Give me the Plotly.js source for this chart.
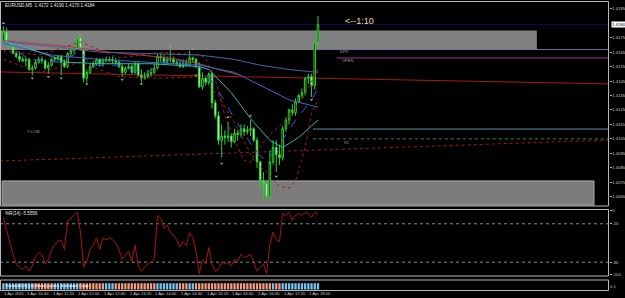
<!DOCTYPE html>
<html><head><meta charset="utf-8">
<script src="https://cdn.plot.ly/plotly-3.0.1.min.js"></script>
<style>html,body{margin:0;padding:0;background:#000;}#chart{width:625px;height:298px;}</style>
</head><body><div id="chart"></div>
<script>
// ---- candle data (EURUSD M5, 1 Apr 2011, 10:05 .. 18:15) ----
const barIndex = Array.from({length: 99}, (_, i) => i);
const open = [1.4172,1.4179,1.4171,1.4169,1.4164,1.4162,1.4160,1.4159,1.4160,1.4153,
1.4154,1.4158,1.4160,1.4159,1.4154,1.4156,1.4160,1.4161,1.4162,1.4158,
1.4155,1.4164,1.4166,1.4168,1.4175,1.4167,1.4147,1.4151,1.4155,1.4157,
1.4160,1.4157,1.4160,1.4159,1.4160,1.4159,1.4158,1.4155,1.4151,1.4154,
1.4155,1.4151,1.4157,1.4149,1.4147,1.4148,1.4150,1.4151,1.4154,1.4162,
1.4161,1.4158,1.4160,1.4160,1.4158,1.4157,1.4155,1.4157,1.4156,1.4161,
1.4160,1.4155,1.4141,1.4147,1.4144,1.4150,1.4130,1.4121,1.4104,1.4107,
1.4106,1.4107,1.4103,1.4109,1.4108,1.4112,1.4110,1.4111,1.4112,1.4104,
1.4089,1.4076,1.4074,1.4065,1.4089,1.4099,1.4094,1.4092,1.4112,1.4118,
1.4125,1.4123,1.4131,1.4135,1.4137,1.4147,1.4148,1.4142,1.4172];
const high = [1.4183,1.4182,1.4173,1.4171,1.4166,1.4165,1.4162,1.4162,1.4161,1.4156,
1.4160,1.4162,1.4162,1.4160,1.4158,1.4161,1.4162,1.4163,1.4163,1.4160,
1.4165,1.4167,1.4169,1.4176,1.4176,1.4168,1.4153,1.4157,1.4159,1.4161,
1.4161,1.4161,1.4162,1.4162,1.4162,1.4161,1.4160,1.4157,1.4155,1.4157,
1.4157,1.4159,1.4158,1.4153,1.4151,1.4153,1.4154,1.4157,1.4164,1.4164,
1.4163,1.4162,1.4167,1.4162,1.4160,1.4159,1.4160,1.4160,1.4166,1.4162,
1.4161,1.4158,1.4151,1.4148,1.4151,1.4151,1.4132,1.4124,1.4115,1.4111,
1.4117,1.4109,1.4112,1.4111,1.4115,1.4115,1.4114,1.4118,1.4113,1.4106,
1.4090,1.4082,1.4076,1.4097,1.4104,1.4104,1.4101,1.4114,1.4120,1.4126,
1.4129,1.4133,1.4136,1.4140,1.4148,1.4150,1.4150,1.4173,1.4190];
const low = [1.4171,1.4170,1.4168,1.4164,1.4161,1.4158,1.4158,1.4155,1.4152,1.4149,
1.4153,1.4157,1.4157,1.4153,1.4150,1.4155,1.4158,1.4159,1.4149,1.4154,
1.4154,1.4162,1.4164,1.4167,1.4166,1.4144,1.4144,1.4150,1.4154,1.4156,
1.4155,1.4155,1.4158,1.4158,1.4157,1.4157,1.4154,1.4148,1.4150,1.4153,
1.4150,1.4150,1.4148,1.4144,1.4146,1.4147,1.4148,1.4150,1.4153,1.4158,
1.4157,1.4157,1.4158,1.4157,1.4156,1.4154,1.4154,1.4155,1.4155,1.4158,
1.4154,1.4140,1.4139,1.4142,1.4142,1.4126,1.4119,1.4101,1.4092,1.4101,
1.4103,1.4099,1.4102,1.4104,1.4106,1.4107,1.4108,1.4107,1.4103,1.4085,
1.4071,1.4064,1.4063,1.4063,1.4087,1.4082,1.4087,1.4090,1.4110,1.4115,
1.4121,1.4121,1.4130,1.4133,1.4135,1.4143,1.4134,1.4139,1.4170];
const close = [1.4179,1.4171,1.4169,1.4164,1.4162,1.4160,1.4159,1.4160,1.4153,1.4154,
1.4158,1.4160,1.4159,1.4154,1.4156,1.4160,1.4161,1.4162,1.4158,1.4155,
1.4164,1.4166,1.4168,1.4175,1.4167,1.4147,1.4151,1.4155,1.4157,1.4160,
1.4157,1.4160,1.4159,1.4160,1.4159,1.4158,1.4155,1.4151,1.4154,1.4155,
1.4151,1.4157,1.4149,1.4147,1.4148,1.4150,1.4151,1.4154,1.4162,1.4161,
1.4158,1.4160,1.4160,1.4158,1.4157,1.4155,1.4157,1.4156,1.4161,1.4160,
1.4155,1.4141,1.4147,1.4144,1.4150,1.4130,1.4121,1.4104,1.4107,1.4106,
1.4107,1.4103,1.4109,1.4108,1.4112,1.4110,1.4111,1.4112,1.4104,1.4089,
1.4076,1.4074,1.4065,1.4089,1.4099,1.4094,1.4092,1.4112,1.4118,1.4125,
1.4123,1.4131,1.4135,1.4137,1.4147,1.4148,1.4142,1.4172,1.4184];

// Williams %R(14)
const willR = [-11,-30,-45,-68,-82,-88,-91,-86,-94,-86,
-71,-65,-68,-83,-76,-60,-53,-47,-45,-60,
-16,-11,-7,-2,-33,-88,-79,-60,-53,-42,
-60,-42,-45,-42,-45,-50,-60,-76,-69,-63,
-79,-53,-86,-94,-88,-83,-80,-74,-7,-11,
-27,-22,-33,-40,-45,-56,-48,-54,-34,-42,
-63,-98,-76,-83,-57,-83,-94,-91,-80,-82,
-80,-86,-76,-79,-68,-73,-71,-68,-79,-94,
-88,-83,-98,-53,-33,-45,-48,-4,-7,-2,
-15,-7,-4,-7,-2,-4,-10,-2,-5.5556];

// bottom trend strip: 1 = up (blue), 0 = down (salmon)
const trendState = [1,1,1,1,1,1,1,1,1,1, 0,0,0,0,0,0,1,1,1,1, 1,1,1,1,0,0,0,0,0,0,
0,0,1,1,1,0,0,0,0,0, 0,0,0,0,0,0,0,0,1,1, 1,1,1,1,1,0,0,0,1,1,
0,0,0,0,0,0,0,0,0,0, 0,0,0,0,0,0,0,0,0,0, 0,0,0,0,1,0,0,1,1,1,
1,1,1,1,1,1,1,1,1];
const stripLabel = 'Trend ADX(14) MetaQuotes Software Corp';

// moving averages / bands (bar index, price)
const maSlowX = [0,15,30,46,61,72,80,89,98];
const maSlowY = [1.4172,1.4169,1.4165,1.4164,1.4163,1.4160,1.4156,1.4153,1.4151];
const maMidX = [0,15,30,46,61,72,80,89,98];
const maMidY = [1.4171,1.4163,1.4160,1.4158,1.4156,1.4151,1.4142,1.4132,1.4127];
const maTealX = [0,5,15,20,30,46,61,64,71,77,83,87,92,98];
const maTealY = [1.4172,1.4170,1.4162,1.4158,1.4157,1.4157,1.4155,1.4153,1.4137,1.4119,1.4104,1.4099,1.4106,1.4118];
const maFastX = [0,8,18,24,27,36,44,52,61,66,72,79,82,86,91,96,98];
const maFastY = [1.4173,1.4160,1.4158,1.4166,1.4156,1.4156,1.4150,1.4161,1.4155,1.4142,1.4119,1.4095,1.4090,1.4101,1.4118,1.4132,1.4140];
const maRedX = [0,10,20,33,43,52,61,67,74];
const maRedY = [1.4173,1.4171,1.4169,1.4165,1.4163,1.4161,1.4157,1.4153,1.4149];
const bandAX = [0,11,24,36,49,61,67,74,78,82,86,89,91,94,96,98];
const bandAY = [1.4160,1.4151,1.4158,1.4148,1.4147,1.4148,1.4135,1.4108,1.4090,1.4082,1.4072,1.4071,1.4076,1.4099,1.4123,1.4132];
const bandBX = [0,11,24,36,49,61,63,66,69,72,75,77,79,83,88,93,98];
const bandBY = [1.4166,1.4163,1.4172,1.4161,1.4165,1.4163,1.4161,1.4146,1.4121,1.4104,1.4090,1.4089,1.4097,1.4108,1.4118,1.4132,1.4153];
const fracUpX = [0,24,52,59,70,77];
const fracUpY = [1.4185,1.4177,1.4169,1.4167,1.4120,1.4121];
const fracDnX = [9,14,18,26,37,43,60,68,85,96];
const fracDnY = [1.4147,1.4148,1.4147,1.4143,1.4146,1.4143,1.4149,1.4088,1.4079,1.4132];

// chart objects (prices)
const zoneUpper = [1.41665, 1.4180];
const zoneLower = [1.40592, 1.40759];
const bidLevel = 1.4184;
const dpvLevel = 1.41668, openLevel = 1.4161, pivotLevel = 1.41118, s1Level = 1.4105;
const trendRed = [1.41513, 1.41430];
const trendDot = [1.40897, 1.41042];

const priceTicks = [1.4065,1.4075,1.4085,1.4095,1.4105,1.4115,1.4125,1.4135,1.4145,1.4155,1.4165,1.4175,1.4195];
const timeTickIdx = [0,7,15,23,31,39,47,55,63,71,79,87,95];
const timeTickText = ['1 Apr 2011','1 Apr 10:40','1 Apr 11:20','1 Apr 12:00','1 Apr 12:40','1 Apr 13:20','1 Apr 14:00','1 Apr 14:40','1 Apr 15:20','1 Apr 16:00','1 Apr 16:40','1 Apr 17:20','1 Apr 18:00'];

const XR = [-1.06, 188.66];
const FRAME = '#b8b8b8';
const TXT = '#c8c8c8';
const FAM = 'Liberation Sans, Arial, sans-serif';

function line(x, y, color, dash, w) {
  return {type:'scatter', mode:'lines', x:x, y:y, xaxis:'x', yaxis:'y',
    line:{color:color, width:w||1, dash:dash||'solid'}, hoverinfo:'skip', showlegend:false};
}

const traces = [
  line(maRedX, maRedY, '#b83a3a'),
  line(bandBX, bandBY, '#a02020', 'dot'),
  line(bandAX, bandAY, '#a02020', 'dot'),
  line(maSlowX, maSlowY, '#5060a8'),
  line(maMidX, maMidY, '#3c68c0'),
  line(maTealX, maTealY, '#3cb0b0'),
  line(maFastX, maFastY, '#3a5ae8', 'dash'),
  {type:'candlestick', x:barIndex, open:open, high:high, low:low, close:close,
   xaxis:'x', yaxis:'y', whiskerwidth:0,
   increasing:{line:{color:'#2ed02e', width:1}, fillcolor:'#000000'},
   decreasing:{line:{color:'#2ed02e', width:1}, fillcolor:'#eaffea'},
   hoverinfo:'skip', showlegend:false},
  {type:'scatter', mode:'markers', x:fracUpX, y:fracUpY, xaxis:'x', yaxis:'y',
   marker:{symbol:'triangle-up', size:3, color:'#9a9a78'}, hoverinfo:'skip', showlegend:false},
  {type:'scatter', mode:'markers', x:fracDnX, y:fracDnY, xaxis:'x', yaxis:'y',
   marker:{symbol:'triangle-down', size:3, color:'#9a9a78'}, hoverinfo:'skip', showlegend:false},
  {type:'scatter', mode:'lines', x:barIndex, y:willR, xaxis:'x', yaxis:'y2',
   line:{color:'#a81414', width:1}, hoverinfo:'skip', showlegend:false},
  {type:'bar', x:barIndex, y:trendState.map(() => 1), base:0, xaxis:'x', yaxis:'y3',
   marker:{color:trendState.map(s => s ? '#79c4f0' : '#f29c80'), line:{width:0}},
   hoverinfo:'skip', showlegend:false}
];

const H = 298;
const dom = (top, bot) => [1 - bot / H, 1 - top / H];

const shapes = [
  {type:'rect', xref:'x', yref:'y', x0:-2, x1:166.2, y0:zoneUpper[0], y1:zoneUpper[1], fillcolor:'#808080', line:{width:0}, layer:'below'},
  {type:'rect', xref:'x', yref:'y', x0:-0.4, x1:184, y0:zoneLower[0], y1:zoneLower[1], fillcolor:'#7c7c7c', line:{color:'#a8a8a8', width:1}, layer:'below'},
  {type:'line', xref:'x', yref:'y', x0:XR[0], x1:XR[1], y0:bidLevel, y1:bidLevel, line:{color:'#0c0c64', width:1}, layer:'below'},
  {type:'line', xref:'x', yref:'y', x0:97.1, x1:XR[1], y0:dpvLevel, y1:dpvLevel, line:{color:'#6a74b0', width:1}, layer:'below'},
  {type:'line', xref:'x', yref:'y', x0:103.9, x1:XR[1], y0:openLevel, y1:openLevel, line:{color:'#9a3a9a', width:1}, layer:'below'},
  {type:'line', xref:'x', yref:'y', x0:XR[0], x1:XR[1], y0:trendRed[0], y1:trendRed[1], line:{color:'#a81818', width:1}, layer:'below'},
  {type:'line', xref:'x', yref:'y', x0:96.4, x1:XR[1], y0:pivotLevel, y1:pivotLevel, line:{color:'#5f8f9f', width:1}, layer:'below'},
  {type:'line', xref:'x', yref:'y', x0:96.4, x1:XR[1], y0:s1Level, y1:s1Level, line:{color:'#3a8a3a', width:1, dash:'dot'}, layer:'below'},
  {type:'line', xref:'x', yref:'y', x0:XR[0], x1:XR[1], y0:trendDot[0], y1:trendDot[1], line:{color:'#a01818', width:1, dash:'dot'}, layer:'below'},
  {type:'line', xref:'paper', yref:'y2', x0:0, x1:1, y0:-20, y1:-20, line:{color:'#8a8a8a', width:1, dash:'dot'}, layer:'below'},
  {type:'line', xref:'paper', yref:'y2', x0:0, x1:1, y0:-80, y1:-80, line:{color:'#8a8a8a', width:1, dash:'dot'}, layer:'below'},
];
// panel frames
[[1.5,206],[209.5,276],[280,290.5]].forEach(([t,b]) => {
  const d = dom(t,b);
  shapes.push({type:'rect', xref:'paper', yref:'paper', x0:0.5/609, x1:608.5/609, y0:d[0], y1:d[1], line:{color:FRAME, width:1}, fillcolor:'rgba(0,0,0,0)'});
});

const small = {family:FAM, size:4.2, color:TXT};
const annotations = [
  {xref:'paper', yref:'paper', x:3/609, y:1-5/H, xanchor:'left', yanchor:'middle', showarrow:false,
   text:'EURUSD,M5  1.4172 1.4190 1.4170 1.4184', font:{family:FAM, size:4.6, color:'#e8e8e8'}},
  {xref:'paper', yref:'paper', x:3/609, y:1-213.5/H, xanchor:'left', yanchor:'middle', showarrow:false,
   text:'%R(14) -5.5556', font:{family:FAM, size:4.6, color:'#e8e8e8'}},
  {xref:'paper', yref:'paper', x:3/609, y:1-285.5/H, xanchor:'left', yanchor:'middle', showarrow:false,
   text:stripLabel, font:{family:FAM, size:4.4, color:'#ffffff'}},
  {xref:'paper', yref:'y', x:1, xshift:2, y:bidLevel, xanchor:'left', yanchor:'middle', showarrow:false,
   text:'1.4184', bgcolor:'#ffffff', borderpad:0, font:{family:FAM, size:4.2, color:'#000000'}},
  {xref:'x', yref:'y', x:105.8, y:1.41866, xanchor:'left', yanchor:'middle', showarrow:false,
   text:'&lt;--1:10', font:{family:'Liberation Sans, Arial, sans-serif', size:9, color:'#e6dfa0'}},
  {xref:'x', yref:'y', x:104.3, y:1.41655, xanchor:'left', yanchor:'middle', showarrow:false, text:'DPV', font:{family:FAM, size:4, color:'#a0a0a0'}},
  {xref:'x', yref:'y', x:104.9, y:1.41592, xanchor:'left', yanchor:'middle', showarrow:false, text:'OPEN', font:{family:FAM, size:4, color:'#a0a0a0'}},
  {xref:'x', yref:'y', x:105.5, y:1.41028, xanchor:'left', yanchor:'middle', showarrow:false, text:'S1', font:{family:FAM, size:4, color:'#a0a0a0'}},
  {xref:'x', yref:'y', x:6.7, y:1.41104, xanchor:'left', yanchor:'middle', showarrow:false, text:'Y LOW', font:{family:FAM, size:4, color:'#a0a0a0'}},
];
// time labels along the bottom, left-aligned at their bar (as the terminal draws them)
timeTickIdx.forEach((ix, k) => {
  annotations.push({xref:'x', yref:'paper', x:ix, y:1-293.8/H, xanchor:'left', yanchor:'middle',
    showarrow:false, text:timeTickText[k], font:{family:FAM, size:4.2, color:TXT}, borderpad:0});
});

const layout = {
  width:625, height:298, margin:{l:0, r:16, t:0, b:0, pad:0},
  paper_bgcolor:'#000000', plot_bgcolor:'#000000', showlegend:false, bargap:0.28,
  font:small,
  xaxis:{domain:[0,1], range:XR, anchor:'y3', rangeslider:{visible:false},
    showticklabels:false, ticks:'', showgrid:false, zeroline:false, showline:false, fixedrange:true},
  yaxis:{domain:dom(1.5,206), range:[1.405855,1.420006], side:'right', anchor:'x',
    tickvals:priceTicks, ticktext:priceTicks.map(v => v.toFixed(4)), tickfont:small,
    ticks:'outside', ticklen:1.5, tickcolor:FRAME, showgrid:false, zeroline:false, showline:false},
  yaxis2:{domain:dom(209.5,276), range:[-101.6,2.3], side:'right', anchor:'x',
    tickvals:[0,-20,-80,-100], ticktext:['0','-20','-80','-100'], tickfont:small,
    ticks:'outside', ticklen:1.5, tickcolor:FRAME, showgrid:false, zeroline:false, showline:false},
  yaxis3:{domain:dom(280,290.5), range:[-0.17,1.5], side:'right', anchor:'x',
    tickvals:[0.5], ticktext:['0.1'], tickfont:small, ticks:'', showgrid:false, zeroline:false, showline:false},
  shapes:shapes, annotations:annotations
};

Plotly.newPlot('chart', traces, layout, {staticPlot:true, displayModeBar:false});
</script></body></html>
